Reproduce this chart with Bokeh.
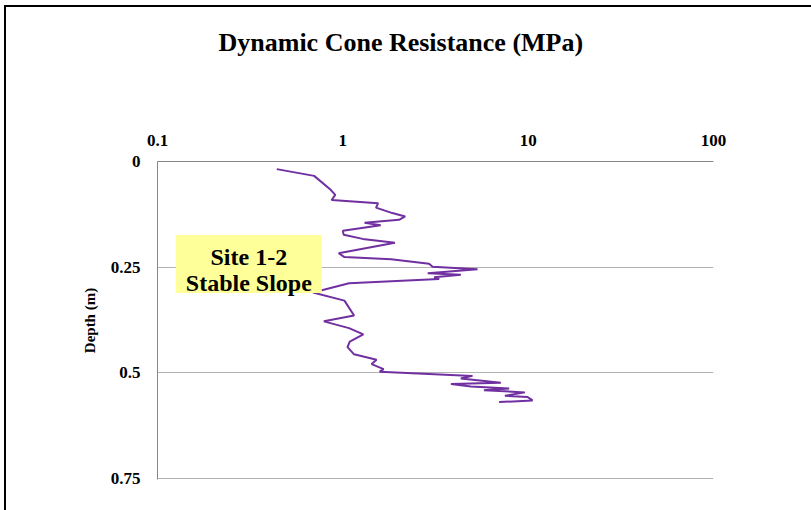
from bokeh.plotting import figure
from bokeh.models import Range1d, FixedTicker, CustomJSTickFormatter, Label, BoxAnnotation
from bokeh.embed import file_html
from bokeh.resources import INLINE

# Dynamic cone resistance (MPa) vs depth (m)
resistance = [0.44, 0.70, 0.86, 0.91, 0.87, 1.55, 1.51, 1.85, 2.17, 2.01,
              1.31, 1.60, 1.00, 1.01, 1.28, 1.91, 0.95, 1.02, 1.82, 2.92,
              3.05, 5.33, 2.87, 4.33, 3.11, 3.31, 1.08, 0.78, 0.69, 1.02,
              1.15, 0.79, 1.08, 1.29, 1.09, 1.06, 1.15, 1.52, 1.43, 1.66,
              1.58, 5.01, 4.33, 7.12, 3.83, 4.91, 7.90, 5.77, 9.60, 7.49,
              9.93, 10.56, 6.97]
depth = [0.018, 0.034, 0.067, 0.079, 0.091, 0.099, 0.109, 0.122, 0.130, 0.138,
         0.145, 0.151, 0.164, 0.173, 0.183, 0.192, 0.217, 0.226, 0.231, 0.242,
         0.249, 0.255, 0.264, 0.268, 0.274, 0.278, 0.288, 0.304, 0.310, 0.329,
         0.364, 0.378, 0.394, 0.409, 0.426, 0.439, 0.456, 0.469, 0.479, 0.491,
         0.497, 0.507, 0.513, 0.523, 0.526, 0.532, 0.537, 0.541, 0.546, 0.554,
         0.557, 0.565, 0.569]
x_ticks = [0.1, 1, 10, 100]
y_ticks = [0, 0.25, 0.5, 0.75]
title_text = "Dynamic Cone Resistance (MPa)"
y_title = "Depth (m)"
note_lines = ["Site 1-2", "Stable Slope"]

FONT = "Liberation Serif"

p = figure(width=811, height=510, x_axis_type="log", x_axis_location="above",
           x_range=Range1d(0.1, 100), y_range=Range1d(0.752, 0),
           output_backend="svg", toolbar_location=None,
           min_border_left=157, min_border_right=98, min_border_top=161,
           min_border_bottom=31)
p.outline_line_color = None
p.background_fill_color = "white"
p.border_fill_alpha = 0
p.styles = {"box-shadow": "inset 4px 5px 0 0 white, inset 6px 7px 0 0 black",
            "background-color": "white"}

p.title.text = title_text
p.title.text_font = FONT
p.title.text_font_style = "bold"
p.title.text_font_size = "26px"
p.title.text_color = "black"
p.title.align = "left"
p.title.offset = 61
p.title.standoff = 50

fmt = CustomJSTickFormatter(code="return String(Math.round(tick*1000)/1000);")

for ax in (p.xaxis[0], p.yaxis[0]):
    ax.major_tick_line_color = None
    ax.minor_tick_line_color = None
    ax.major_tick_in = 0
    ax.major_tick_out = 0
    ax.minor_tick_in = 0
    ax.minor_tick_out = 0
    ax.axis_line_color = "#868686"
    ax.axis_line_width = 1
    ax.major_label_text_font = FONT
    ax.major_label_text_font_style = "bold"
    ax.major_label_text_font_size = "17px"
    ax.major_label_text_color = "black"
    ax.formatter = fmt

p.xaxis.ticker = FixedTicker(ticks=x_ticks)
p.yaxis.ticker = FixedTicker(ticks=y_ticks)
p.xaxis.major_label_standoff = 16
# blank spacer label so the title sits near the top of the page
p.xaxis.axis_label = " "
p.xaxis.axis_label_text_font_size = "15px"
p.xaxis.axis_label_standoff = 30
p.yaxis.major_label_standoff = 17
p.yaxis.axis_label = y_title
p.yaxis.axis_label_text_font = FONT
p.yaxis.axis_label_text_font_style = "bold"
p.yaxis.axis_label_text_font_size = "15px"
p.yaxis.axis_label_text_color = "black"
p.yaxis.axis_label_standoff = 10

p.xgrid.visible = False
p.ygrid.ticker = FixedTicker(ticks=y_ticks)
p.ygrid.grid_line_color = "#b3b3b3"
p.ygrid.grid_line_width = 1

p.line(resistance, depth, line_color="#7030A0", line_width=2)

# annotation box "Site 1-2 / Stable Slope"
note_box = BoxAnnotation(left=0.1255, right=0.77, top=0.174, bottom=0.311,
                         fill_color="#FFFF99", fill_alpha=1, line_color=None,
                         level="annotation")
p.add_layout(note_box)
for txt, yy in zip(note_lines, [0.226, 0.287]):
    p.add_layout(Label(x=0.311, y=yy, text=txt, text_font=FONT,
                       text_font_style="bold", text_font_size="24px",
                       text_color="black", text_align="center",
                       text_baseline="alphabetic"))

open("out.html", "w").write(file_html(p, INLINE))
